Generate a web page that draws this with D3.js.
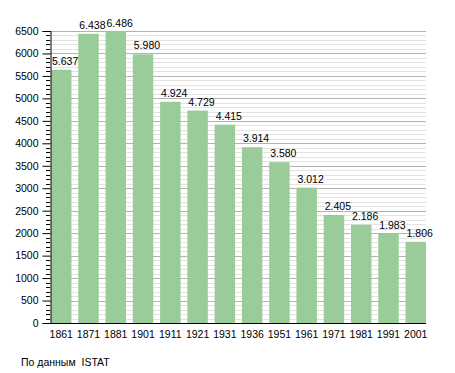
<!DOCTYPE html>
<html><head><meta charset="utf-8">
<script src="https://cdn.jsdelivr.net/npm/d3@7/dist/d3.min.js"></script>
<style>body{margin:0;background:#fff}svg{display:block}text{font-family:"Liberation Sans",Arial,sans-serif;fill:#000}</style>
</head><body><svg id="c" width="455" height="373"></svg>
<script>
const years = ["1861","1871","1881","1901","1911","1921","1931","1936","1951","1961","1971","1981","1991","2001"];
const population = [5637,6438,6486,5980,4924,4729,4415,3914,3580,3012,2405,2186,1983,1806];
const majorTicks = [0,500,1000,1500,2000,2500,3000,3500,4000,4500,5000,5500,6000,6500];
const sourceNote = "По данным  ISTAT";

(function () {
const svg = d3.select("#c");
const pl = 50, pr = 426, pt = 31, pb = 323;
const x = d3.scaleBand().domain(years).range([pl + 1, pr]).paddingInner(0.25).paddingOuter(0).align(0);
const y = d3.scaleLinear().domain([0, 6500]).range([pb, pt]);
const minorTicks = d3.range(0, 6501, 100);
const py = d => Math.round(y(d)) + 0.5;

// grid
svg.append("g").selectAll("line").data(minorTicks.filter(v => v % 500 !== 0)).join("line")
  .attr("x1", pl).attr("x2", pr).attr("y1", py).attr("y2", py)
  .attr("stroke", "#e3e3e3").attr("stroke-width", 1);
svg.append("g").selectAll("line").data(majorTicks.filter(v => v > 0)).join("line")
  .attr("x1", pl).attr("x2", pr).attr("y1", py).attr("y2", py)
  .attr("stroke", "#b3b3b3").attr("stroke-width", 1);

// bars
svg.append("g").selectAll("rect").data(years).join("rect")
  .attr("x", d => x(d)).attr("width", x.bandwidth())
  .attr("y", (d, i) => y(population[i])).attr("height", (d, i) => pb - y(population[i]))
  .attr("fill", "#99cc99");

// value labels
const fmt = v => d3.format(",")(v).replace(/,/g, ".");
svg.append("g").selectAll("text").data(years).join("text")
  .attr("x", d => x(d) + 1).attr("y", (d, i) => y(population[i]) - 5)
  .attr("font-size", "10.5px").text((d, i) => fmt(population[i]));

// y axis
const yAxis = d3.axisLeft(y).tickValues(majorTicks).tickSize(8).tickPadding(4).tickFormat(d3.format("d"));
const ga = svg.append("g").attr("transform", `translate(${pl + 0.5},0)`).call(yAxis);
ga.select(".domain").attr("stroke", "#000");
ga.selectAll("text").attr("font-size", "10.5px").attr("font-family", '"Liberation Sans",Arial,sans-serif').attr("fill", "#000");
ga.selectAll(".tick line").attr("stroke", "#000");
svg.append("g").selectAll("line").data(minorTicks.filter(v => v % 500 !== 0)).join("line")
  .attr("x1", pl - 4).attr("x2", pl).attr("y1", py).attr("y2", py)
  .attr("stroke", "#000");

// x axis
const xAxis = d3.axisBottom(x).tickSize(0).tickPadding(7);
const gx = svg.append("g").attr("transform", `translate(0,${pb + 0.5})`).call(xAxis);
gx.select(".domain").attr("stroke", "#000").attr("d", `M${pl},0H${pr}`);
gx.selectAll("text").attr("font-size", "10.5px").attr("font-family", '"Liberation Sans",Arial,sans-serif').attr("fill", "#000");

svg.append("text").attr("x", 21).attr("y", 366).attr("font-size", "10.5px").style("white-space", "pre").text(sourceNote);
})();
</script></body></html>
